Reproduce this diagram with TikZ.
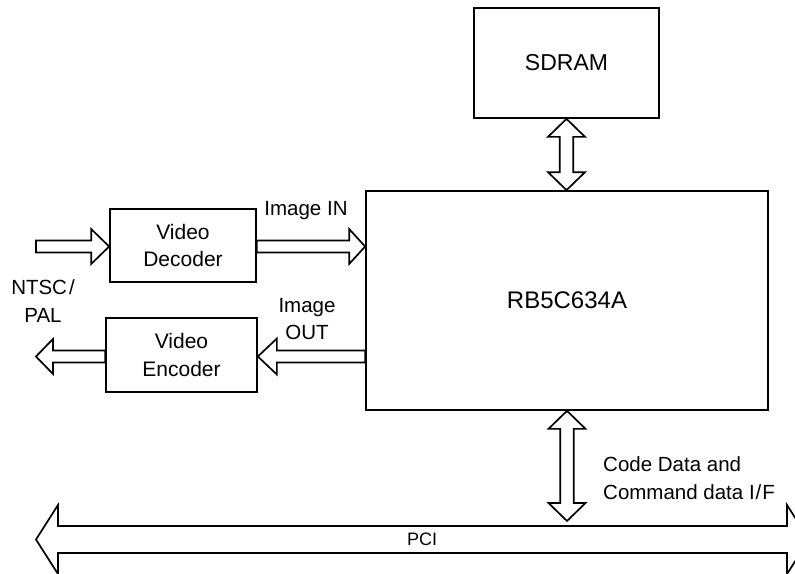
\documentclass[tikz,border=0pt]{standalone}
\usepackage{fontspec}
\setmainfont{Liberation Sans}
\usetikzlibrary{calc}
\tikzset{
  blk/.style={draw, line width=1.7pt, line join=miter},
  box/.style={draw, line width=1.7pt, inner sep=0pt, align=center, font=\fontsize{21}{27.5}\selectfont},
  bigbox/.style={box, font=\fontsize{23}{26}\selectfont},
  lbl/.style={inner sep=0pt, align=center, font=\fontsize{20.5}{27.5}\selectfont},
}
% single block arrow along x: #1 tail, #2 tip, #3 shaft half, #4 head half, #5 signed head length
\newcommand\hblk[5]{%
  \draw[blk] let \p1=#1, \p2=#2 in
    ({\x1},{\y1+#3}) -- ({\x2-(#5)},{\y1+#3}) -- ({\x2-(#5)},{\y1+#4}) --
    ({\x2},{\y1}) -- ({\x2-(#5)},{\y1-#4}) -- ({\x2-(#5)},{\y1-#3}) --
    ({\x1},{\y1-#3}) -- cycle;}
% double block arrow along y: #1 top tip, #2 bottom tip
\newcommand\vdblk[5]{%
  \draw[blk] let \p1=#1, \p2=#2 in
    ({\x1},{\y1}) -- ({\x1+#4},{\y1-#5}) -- ({\x1+#3},{\y1-#5}) --
    ({\x1+#3},{\y2+#5}) -- ({\x1+#4},{\y2+#5}) -- ({\x1},{\y2}) --
    ({\x1-#4},{\y2+#5}) -- ({\x1-#3},{\y2+#5}) -- ({\x1-#3},{\y1-#5}) --
    ({\x1-#4},{\y1-#5}) -- cycle;}
% double block arrow along x: #1 left tip, #2 right tip
\newcommand\hdblk[5]{%
  \draw[blk] let \p1=#1, \p2=#2 in
    ({\x1},{\y1}) -- ({\x1+#5},{\y1+#4}) -- ({\x1+#5},{\y1+#3}) --
    ({\x2-#5},{\y1+#3}) -- ({\x2-#5},{\y1+#4}) -- ({\x2},{\y1}) --
    ({\x2-#5},{\y1-#4}) -- ({\x2-#5},{\y1-#3}) -- ({\x1+#5},{\y1-#3}) --
    ({\x1+#5},{\y1-#4}) -- cycle;}
\begin{document}
\begin{tikzpicture}[x=1pt, y=-1pt]
\useasboundingbox (0,0) rectangle (795,573);

\node[bigbox, minimum width=185pt, minimum height=110pt] (sdram) at (566.5,63) {SDRAM};
\node[bigbox, minimum width=402pt, minimum height=219pt, font=\fontsize{24}{26}\selectfont] (main) at (567,300.5) {RB5C634A};
\node[box, minimum width=146pt, minimum height=73pt] (dec) at (183,245.5) {Video\\Decoder};
\node[box, minimum width=151pt, minimum height=74pt] (enc) at (181.5,355) {Video\\Encoder};

\node[lbl] (imin) at (306,211) {Image IN};
\node[lbl] (imout) at (307,319) {Image\\OUT};
\node[lbl] (ntsc) at (43,301) {NTSC\kern2pt/\\PAL};
\node[lbl, align=left, anchor=west] (code) at (603,478) {Code Data and\\Command data I\kern1pt/\kern1pt F};
\node[lbl, font=\fontsize{18}{20}\selectfont] (pci) at (422,539.5) {PCI};

\coordinate (inL) at (36,246.5);
\coordinate (outL) at (36,356.5);
\coordinate (busT) at (567,521);
\coordinate (pciL) at (36,539.5);
\coordinate (pciR) at (809,539.5);

% video in
\hblk{(inL)}{(inL -| dec.west)}{6pt}{17.5pt}{18pt}
% image in
\hblk{(inL -| dec.east)}{(inL -| main.west)}{6pt}{17.5pt}{16pt}
% image out
\hblk{(outL -| main.west)}{(outL -| enc.east)}{6pt}{18pt}{-19pt}
% video out
\hblk{(outL -| enc.west)}{(outL)}{6pt}{17.5pt}{-17pt}
% SDRAM bus
\vdblk{(sdram.south)}{(main.north -| sdram.south)}{6.7pt}{18.5pt}{18pt}
% PCI interface
\vdblk{(main.south)}{(busT)}{6.7pt}{18.5pt}{18pt}
% PCI bus
\hdblk{(pciL)}{(pciR)}{13.5pt}{34.5pt}{22pt}
\end{tikzpicture}
\end{document}
